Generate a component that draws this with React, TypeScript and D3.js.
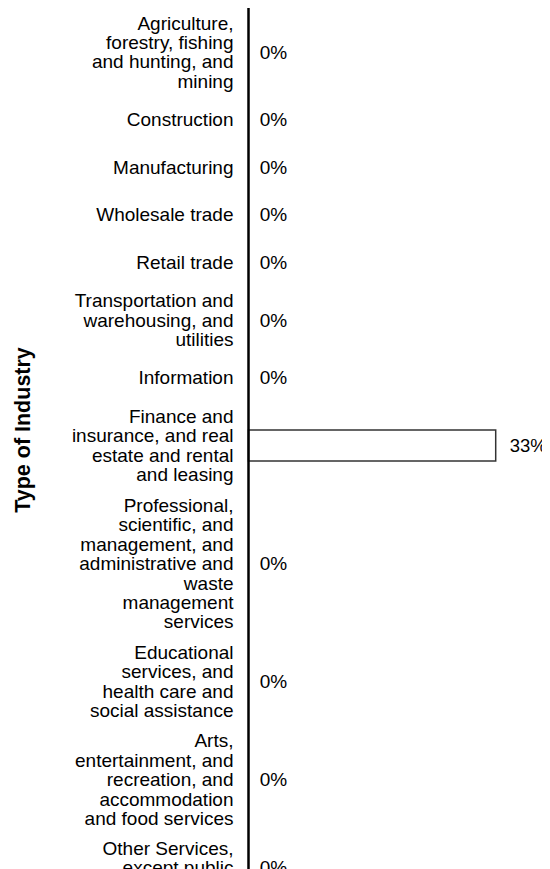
import { useMemo } from "react";
import * as d3 from "d3";

// industry rows, top to bottom
const categories = [
  "Agriculture, forestry, fishing and hunting, and mining",
  "Construction",
  "Manufacturing",
  "Wholesale trade",
  "Retail trade",
  "Transportation and warehousing, and utilities",
  "Information",
  "Finance and insurance, and real estate and rental and leasing",
  "Professional, scientific, and management, and administrative and waste management services",
  "Educational services, and health care and social assistance",
  "Arts, entertainment, and recreation, and accommodation and food services",
  "Other Services, except public administration",
  "Public administration",
];

const shares = [0, 0, 0, 0, 0, 0, 0, 0.33, 0, 0, 0, 0, 0];

const axisTitle = "Type of Industry";

const WIDTH = 542;
const HEIGHT = 1000;
const AXIS_X = 240.5;
const BAR_END = 487.7;
const LABEL_FONT = "19px 'Liberation Sans', Arial, sans-serif";
const WRAP_W = 164;
const TEXT_LINE = 19.4;
const ROW_LINE = 20;
const ROW_PAD = 8;
const ROW_MIN = 47.5;
const BAR_H = 31;

function wrapLabel(text: string, ctx: CanvasRenderingContext2D | null) {
  const words = text.split(" ");
  const lines: string[] = [];
  let cur = "";
  for (const w of words) {
    const test = cur ? cur + " " + w : w;
    const wd = ctx ? ctx.measureText(test).width : test.length * 9;
    if (wd > WRAP_W && cur) {
      lines.push(cur);
      cur = w;
    } else {
      cur = test;
    }
  }
  if (cur) lines.push(cur);
  return lines;
}

export default function App() {
  const rows = useMemo(() => {
    const ctx = document.createElement("canvas").getContext("2d");
    if (ctx) ctx.font = LABEL_FONT;
    let top = 0;
    return categories.map((c, i) => {
      const lines = wrapLabel(c, ctx);
      const h = Math.max(ROW_MIN, lines.length * ROW_LINE + ROW_PAD);
      const row = { name: c, lines, value: shares[i], center: top + h / 2 };
      top += h;
      return row;
    });
  }, []);

  const x = d3
    .scaleLinear()
    .domain([0, d3.max(shares) ?? 1])
    .range([AXIS_X, BAR_END]);
  const fmt = d3.format(".0%");

  return (
    <>
      <style>{`html, body { overflow: hidden; }`}</style>
      <svg
        width={WIDTH}
        height={HEIGHT}
        style={{ display: "block", overflow: "visible" }}
      >
        <g fontFamily="'Liberation Sans', Arial, sans-serif" fill="#000">
          {rows.map((r) => (
            <g key={r.name}>
              <text x={AXIS_X - 15} textAnchor="end" fontSize={19}>
                {r.lines.map((ln, j) => (
                  <tspan
                    key={j}
                    x={AXIS_X - 15}
                    y={r.center + (j - (r.lines.length - 1) / 2) * TEXT_LINE}
                    dy="0.35em"
                  >
                    {ln}
                  </tspan>
                ))}
              </text>
              {r.value > 0 && (
                <rect
                  x={x(0)}
                  y={r.center - BAR_H / 2}
                  width={x(r.value) - x(0)}
                  height={BAR_H}
                  fill="#fff"
                  stroke="#333"
                  strokeWidth={1.5}
                />
              )}
              <text
                x={x(r.value) + (r.value > 0 ? 14 : 11.2)}
                y={r.center}
                dy="0.35em"
                fontSize={r.value > 0 ? 18.5 : 19}
              >
                {fmt(r.value)}
              </text>
            </g>
          ))}
          <line x1={AXIS_X} x2={AXIS_X} y1={0} y2={HEIGHT} stroke="#000" strokeWidth={2.5} />
          <text
            transform={`translate(14,422) rotate(-90)`}
            textAnchor="middle"
            dy="0.35em"
            fontSize={21.5}
            fontWeight="bold"
          >
            {axisTitle}
          </text>
        </g>
      </svg>
    </>
  );
}
